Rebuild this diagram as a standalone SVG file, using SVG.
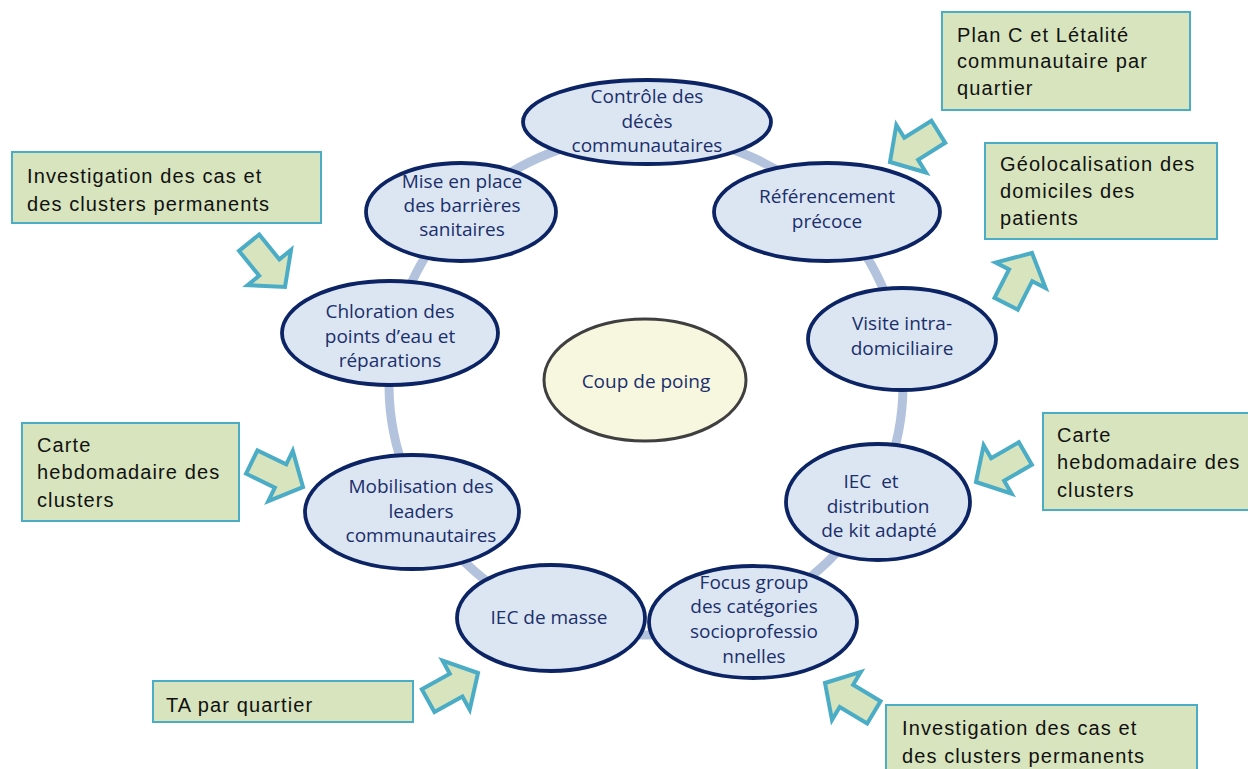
<svg xmlns="http://www.w3.org/2000/svg" width="1248" height="769" viewBox="0 0 1248 769">
<style>
.node ellipse{fill:#dce6f2;stroke:#0c2463;stroke-width:3.8}
.node text{font-family:"Open Sans","Liberation Sans",sans-serif;font-size:19px;fill:#1a2f6b;text-anchor:middle}
.core ellipse{fill:#f7f7df;stroke:#3f3f3f;stroke-width:3}
.box rect{fill:#d7e4bd;stroke:#4bacc6;stroke-width:2}
.box text{font-family:"Liberation Sans",Arial,sans-serif;font-size:20px;letter-spacing:1.1px;fill:#111}
.arr{fill:#d7e4bd;stroke:#4bacc6;stroke-width:4;stroke-linejoin:miter}
</style>
<defs>
<polygon id="blk" points="0,0 -25,-28 -25,-13 -57,-13 -57,13 -25,13 -25,28"/>
</defs>
<rect width="1248" height="769" fill="#ffffff"/>
<g id="connectors">
<ellipse cx="646" cy="385" rx="257" ry="250" fill="none" stroke="#b4c3dd" stroke-width="9"/>
</g>
<g id="n1" class="node"><ellipse cx="647" cy="122" rx="124" ry="42"/><text x="647" y="103">Contrôle des</text><text x="647" y="128">décès</text><text x="647" y="152">communautaires</text></g>
<g id="n2" class="node"><ellipse cx="461" cy="212" rx="95" ry="49"/><text x="462" y="188">Mise en place</text><text x="462" y="212">des barrières</text><text x="462" y="236">sanitaires</text></g>
<g id="n3" class="node"><ellipse cx="827" cy="212" rx="113" ry="49"/><text x="827" y="203">Référencement</text><text x="827" y="228">précoce</text></g>
<g id="n4" class="node"><ellipse cx="390" cy="333" rx="108" ry="52"/><text x="390" y="318">Chloration des</text><text x="390" y="343">points d’eau et</text><text x="390" y="367">réparations</text></g>
<g id="n5" class="node"><ellipse cx="902" cy="339" rx="94" ry="51"/><text x="902" y="330">Visite intra-</text><text x="902" y="355">domiciliaire</text></g>
<g id="n6" class="node core"><ellipse cx="645" cy="380" rx="101" ry="61"/><text x="646" y="388">Coup de poing</text></g>
<g id="n7" class="node"><ellipse cx="412" cy="512" rx="107" ry="57"/><text x="421" y="493">Mobilisation des</text><text x="421" y="518">leaders</text><text x="421" y="542">communautaires</text></g>
<g id="n8" class="node"><ellipse cx="878" cy="502" rx="92" ry="58"/><text x="871" y="488" style="white-space:pre">IEC  et</text><text x="878" y="513">distribution</text><text x="879" y="537">de kit adapté</text></g>
<g id="n9" class="node"><ellipse cx="551" cy="618" rx="94" ry="53"/><text x="549" y="624">IEC de masse</text></g>
<g id="n10" class="node"><ellipse cx="753" cy="622" rx="104" ry="56"/><text x="754" y="589">Focus group</text><text x="754" y="613">des catégories</text><text x="754" y="638">socioprofessio</text><text x="754" y="663">nnelles</text></g>
<g id="b1" class="box"><rect x="942" y="12" width="248" height="98"/><text x="957" y="42">Plan C et Létalité</text><text x="957" y="68">communautaire par</text><text x="957" y="95">quartier</text></g>
<g id="b2" class="box"><rect x="985" y="143" width="232" height="96"/><text x="1000" y="171">Géolocalisation des</text><text x="1000" y="198">domiciles des</text><text x="1000" y="225">patients</text></g>
<g id="b3" class="box"><rect x="12" y="152" width="309" height="71"/><text x="27" y="183">Investigation des cas et</text><text x="27" y="211">des clusters permanents</text></g>
<g id="b4" class="box"><rect x="22" y="423" width="217" height="98"/><text x="37" y="452">Carte</text><text x="37" y="479">hebdomadaire des</text><text x="37" y="507">clusters</text></g>
<g id="b5" class="box"><rect x="1043" y="413" width="212" height="97"/><text x="1057" y="442">Carte</text><text x="1057" y="469">hebdomadaire des</text><text x="1057" y="497">clusters</text></g>
<g id="b6" class="box"><rect x="153" y="681" width="260" height="41"/><text x="166" y="712">TA par quartier</text></g>
<g id="b7" class="box"><rect x="886" y="705" width="311" height="72"/><text x="902" y="735">Investigation des cas et</text><text x="902" y="763">des clusters permanents</text></g>
<g id="arrows">
<use href="#blk" class="arr" transform="translate(890,162) rotate(148)"/>
<use href="#blk" class="arr" transform="translate(285,287) rotate(51)"/>
<use href="#blk" class="arr" transform="translate(1032,253) rotate(-63)"/>
<use href="#blk" class="arr" transform="translate(303,487) rotate(26)"/>
<use href="#blk" class="arr" transform="translate(976,482) rotate(150)"/>
<use href="#blk" class="arr" transform="translate(478,673) rotate(-29)"/>
<use href="#blk" class="arr" transform="translate(825,683) rotate(-149)"/>
</g>
</svg>
